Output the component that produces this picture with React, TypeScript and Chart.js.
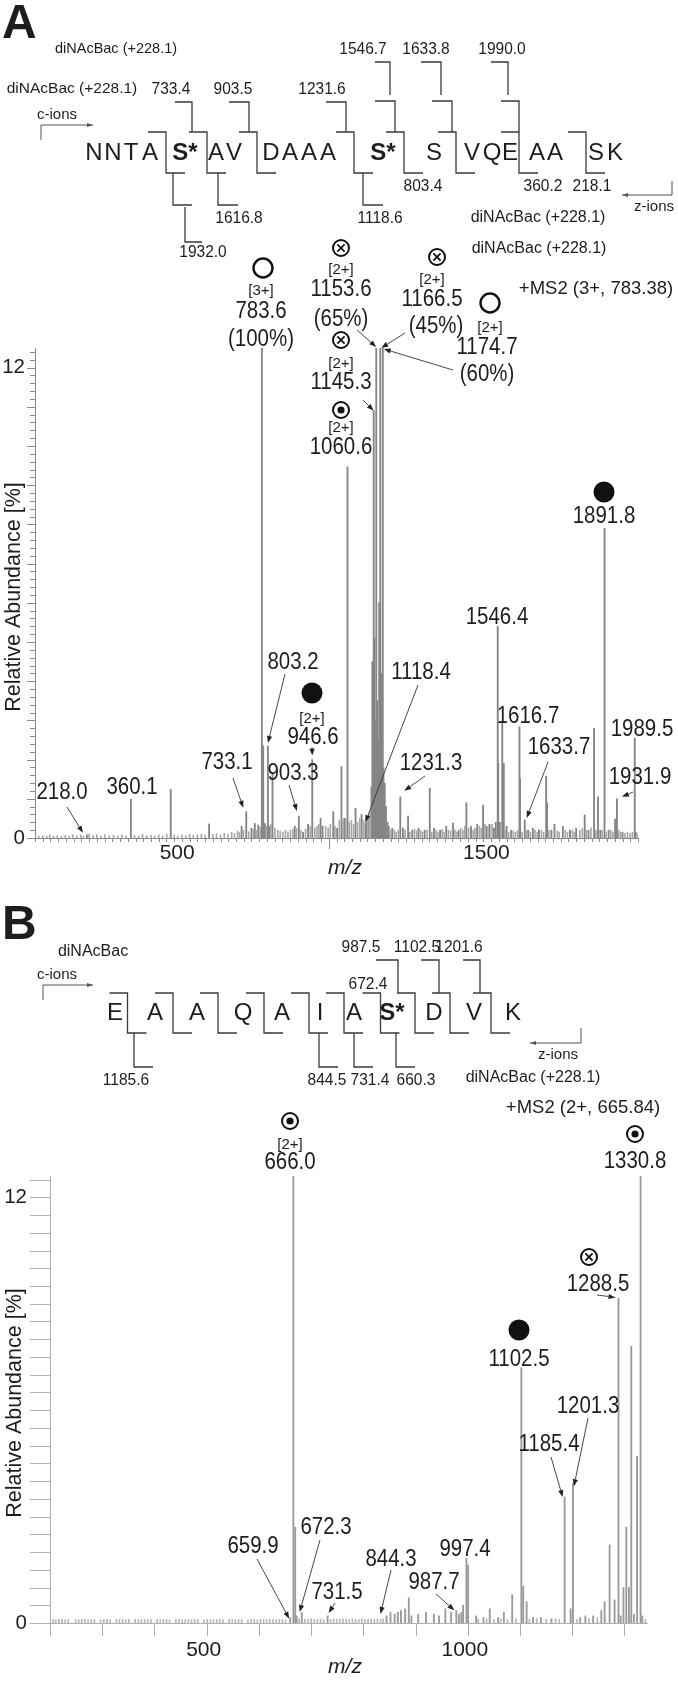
import React, { useEffect, useRef } from 'react';
import { Chart, registerables } from 'chart.js';

Chart.register(...registerables);

const FONT = '"Liberation Sans", Arial, Helvetica, sans-serif';

// ---------------- DATA : panel A (m/z, relative abundance %) ----------------
const peaksA: [number, number][] = [
  [218.0, 0.08], [360.1, 0.99], [489.0, 1.24], [613.0, 0.36], [718.0, 0.3], [733.1, 0.67],
  [750.0, 0.25], [761.0, 0.37], [772.0, 0.33], [783.6, 100], [788.0, 2.35], [793.5, 0.37],
  [803.2, 2.35], [808.0, 0.3], [818.0, 1.65], [890.0, 0.3], [903.3, 0.56], [917.0, 0.15],
  [933.0, 0.35], [946.6, 2.0], [973.6, 0.5], [980.0, 0.3], [1014.6, 0.67], [1027.0, 0.25],
  [1041.0, 1.82], [1050.0, 0.5], [1060.6, 9.47], [1086.5, 0.76], [1106.0, 0.6], [1118.4, 0.38],
  [1122.0, 0.5], [1130.0, 0.6], [1138.0, 1.3], [1141.0, 4.5], [1145.3, 10.9], [1147.5, 5.1],
  [1150.0, 3.0], [1153.6, 65], [1157.0, 3.5], [1160.0, 2.5], [1163.0, 6.0], [1166.5, 45],
  [1170.0, 4.2], [1174.7, 60], [1177.0, 1.8], [1181.0, 1.4], [1185.0, 0.8], [1190.0, 0.4],
  [1194.0, 0.3], [1205.0, 0.25], [1231.3, 1.05], [1240.0, 0.25], [1256.5, 0.56], [1270.0, 0.2],
  [1290.0, 0.25], [1310.0, 0.2], [1326.6, 1.27], [1340.0, 0.25], [1360.0, 0.2], [1380.0, 0.3],
  [1402.0, 0.38], [1420.0, 0.2], [1445.0, 0.9], [1460.0, 0.3], [1480.0, 0.35], [1499.0, 0.84],
  [1510.0, 0.3], [1520.0, 0.35], [1534.0, 0.25], [1540.0, 0.4], [1546.4, 5.4], [1548.0, 1.9],
  [1553.0, 0.4], [1561.0, 2.97], [1566.0, 1.9], [1575.0, 0.3], [1590.0, 0.2], [1616.7, 2.84],
  [1618.5, 1.53], [1633.7, 0.46], [1645.0, 0.2], [1660.0, 0.25], [1680.0, 0.2], [1703.0, 1.58],
  [1706.0, 0.9], [1720.0, 0.2], [1730.0, 0.35], [1757.0, 0.3], [1780.0, 0.2], [1800.0, 0.25],
  [1827.6, 0.59], [1840.0, 0.2], [1858.0, 2.8], [1870.7, 1.05], [1878.0, 0.2], [1891.8, 7.9],
  [1905.0, 0.2], [1926.0, 0.48], [1931.9, 1.0], [1950.0, 0.15], [1989.5, 2.55], [1993.0, 0.15],
];

const noiseA: [number, number][] = [
  [62, 0.05], [75, 0.06], [88, 0.04], [98, 0.08], [110, 0.05], [122, 0.06], [135, 0.04], [148, 0.07],
  [160, 0.05], [172, 0.09], [185, 0.06], [198, 0.08], [207, 0.05], [225, 0.1], [238, 0.06], [250, 0.08],
  [263, 0.05], [276, 0.09], [290, 0.06], [304, 0.07], [318, 0.05], [331, 0.08], [345, 0.06], [372, 0.07],
  [385, 0.05], [398, 0.09], [411, 0.06], [425, 0.07], [437, 0.05], [450, 0.08], [463, 0.06], [476, 0.1],
  [500, 0.07], [512, 0.05], [525, 0.08], [538, 0.06], [550, 0.09], [562, 0.07], [575, 0.08], [588, 0.1],
  [600, 0.07], [625, 0.09], [637, 0.11], [650, 0.08], [662, 0.12], [674, 0.1], [686, 0.15], [695, 0.12],
  [705, 0.18], [711, 0.14], [724, 0.2], [741, 0.16], [756, 0.22], [766, 0.2], [778, 0.28], [798, 0.3],
  [813, 0.35], [826, 0.25], [835, 0.2], [843, 0.18], [852, 0.15], [860, 0.2], [868, 0.15], [876, 0.2],
  [884, 0.22], [896, 0.25], [909, 0.2], [925, 0.22], [940, 0.3], [955, 0.25], [962, 0.3], [968, 0.35],
  [990, 0.3], [998, 0.25], [1005, 0.35], [1020, 0.3], [1034, 0.45], [1046, 0.4], [1055, 0.5], [1066, 0.4],
  [1073, 0.45], [1080, 0.35], [1093, 0.4], [1100, 0.5], [1112, 0.45], [1126, 0.5], [1133, 0.7], [1198, 0.2],
  [1212, 0.2], [1218, 0.15], [1225, 0.2], [1247, 0.2], [1262, 0.15], [1277, 0.22], [1284, 0.18], [1297, 0.2],
  [1303, 0.15], [1318, 0.2], [1333, 0.15], [1347, 0.2], [1353, 0.15], [1367, 0.22], [1373, 0.15], [1387, 0.2],
  [1394, 0.18], [1408, 0.2], [1414, 0.15], [1427, 0.25], [1434, 0.2], [1440, 0.3], [1452, 0.25], [1467, 0.2],
  [1473, 0.25], [1487, 0.3], [1493, 0.25], [1505, 0.35], [1515, 0.3], [1528, 0.35], [1557, 0.3], [1570, 0.2],
  [1582, 0.15], [1597, 0.18], [1604, 0.15], [1611, 0.2], [1625, 0.15], [1639, 0.2], [1652, 0.15], [1667, 0.2],
  [1674, 0.15], [1688, 0.2], [1695, 0.15], [1712, 0.2], [1739, 0.18], [1745, 0.15], [1765, 0.2], [1772, 0.15],
  [1788, 0.2], [1794, 0.15], [1812, 0.2], [1820, 0.25], [1833, 0.2], [1848, 0.25], [1864, 0.2], [1884, 0.2],
  [1897, 0.15], [1912, 0.2], [1919, 0.15], [1938, 0.2], [1944, 0.15], [1958, 0.12], [1966, 0.15], [1974, 0.12],
  [1982, 0.15], [1997, 0.1],
];

// ---------------- DATA : panel B ----------------
const peaksB: [number, number][] = [
  [659.9, 0.15], [666.0, 100], [669.5, 2.7], [672.3, 0.2], [682.0, 0.3], [731.5, 0.2], [844.3, 0.2],
  [852.0, 0.3], [860.0, 0.25], [866.0, 0.3], [872.0, 0.35], [880.0, 0.4], [887.0, 0.71], [892.0, 0.2],
  [905.0, 0.25], [920.0, 0.3], [935.0, 0.25], [945.0, 0.2], [957.0, 0.4], [968.0, 0.3], [978.0, 0.35],
  [983.0, 0.25], [987.7, 0.3], [991.0, 0.5], [997.4, 1.83], [1000.5, 1.63], [1016.0, 0.2], [1030.0, 0.15],
  [1042.0, 0.4], [1058.0, 0.15], [1069.0, 0.3], [1085.0, 0.8], [1102.5, 7.2], [1106.0, 1.04], [1112.6, 0.6],
  [1125.0, 0.15], [1140.0, 0.15], [1160.0, 0.12], [1185.4, 3.55], [1197.0, 0.4], [1201.3, 3.94],
  [1215.0, 0.15], [1225.0, 0.2], [1240.0, 0.2], [1255.6, 0.35], [1262.0, 0.6], [1271.5, 2.2], [1281.0, 0.65],
  [1288.5, 9.15], [1292.6, 0.2], [1298.0, 1.0], [1303.5, 2.7], [1308.5, 1.0], [1313.0, 7.8], [1318.0, 0.25],
  [1324.0, 4.7], [1330.8, 60], [1334.0, 0.2],
];

const noiseB: [number, number][] = [
  [206, 0.1], [211, 0.09], [217, 0.1], [223, 0.1], [229, 0.09], [235, 0.1], [249, 0.1], [255, 0.09],
  [261, 0.1], [267, 0.1], [273, 0.09], [279, 0.1], [285, 0.1], [297, 0.09], [303, 0.1], [309, 0.1],
  [315, 0.09], [327, 0.1], [333, 0.1], [339, 0.1], [345, 0.09], [351, 0.1], [363, 0.1], [369, 0.09],
  [375, 0.1], [381, 0.1], [387, 0.09], [393, 0.1], [405, 0.1], [411, 0.09], [417, 0.1], [423, 0.1],
  [429, 0.09], [441, 0.1], [447, 0.1], [453, 0.09], [459, 0.1], [465, 0.1], [471, 0.09], [477, 0.1],
  [483, 0.1], [495, 0.09], [501, 0.1], [507, 0.1], [513, 0.09], [519, 0.1], [525, 0.1], [531, 0.09],
  [543, 0.1], [549, 0.1], [555, 0.09], [561, 0.1], [567, 0.1], [579, 0.09], [585, 0.1], [591, 0.1],
  [597, 0.09], [603, 0.1], [609, 0.1], [615, 0.09], [621, 0.1], [627, 0.1], [633, 0.09], [639, 0.1],
  [645, 0.1], [651, 0.09], [677, 0.12], [688, 0.1], [694, 0.1], [700, 0.12], [706, 0.1], [712, 0.1],
  [718, 0.12], [724, 0.1], [737, 0.1], [743, 0.12], [749, 0.1], [755, 0.1], [761, 0.12], [767, 0.1],
  [773, 0.1], [779, 0.12], [785, 0.1], [791, 0.1], [797, 0.12], [803, 0.1], [809, 0.1], [815, 0.12],
  [821, 0.1], [827, 0.12], [833, 0.1], [838, 0.12], [1020, 0.1], [1036, 0.12], [1050, 0.1], [1063, 0.12],
  [1076, 0.1], [1092, 0.12], [1118, 0.1], [1132, 0.12], [1150, 0.1], [1168, 0.12], [1175, 0.1], [1209, 0.1],
  [1232, 0.12], [1248, 0.15], [1340, 0.1],
];

// axis ranges and tick labels
const xRangeA = [50, 2000];
const yMaxA = 12.5;
const xRangeB = [200, 1345];
const yMaxB = 12.6;
const xTickLabelsA = [500, 1500];
const xTickLabelsB = [500, 1000];
const yTickLabels = [0, 12];

// peptide sequences
const seqA = ['N', 'N', 'T', 'A', 'S*', 'A', 'V', 'D', 'A', 'A', 'A', 'S*', 'S', 'V', 'Q', 'E', 'A', 'A', 'S', 'K'];
const seqB = ['E', 'A', 'A', 'Q', 'A', 'I', 'A', 'S*', 'D', 'V', 'K'];

// ---------------- LAYOUT (positions of diagram pieces) ----------------
const seqAX = [94, 113, 131, 150, 185, 216, 234, 271, 290, 309, 328, 383, 434, 472, 492, 510, 537, 555, 596, 615];
const cutsAX = [166, 207, 257, 354, 404, 456, 519, 586];
const seqBX = [115, 155, 197, 243, 282, 320, 354, 392, 434, 474, 513];
const cutsBX = [127.5, 173, 218, 264, 309, 344, 380.5, 415, 450, 491];

type Sym = { k: string; x: number; y: number };
type Txt = { t: string; x: number; y: number; s?: number; a?: CanvasTextAlign; st?: string; cx?: number };
type Arr = { fx: number; fy: number; mz: number; dx: number; dy: number };
type Br = [number, number, number, number, number]; // hx1,hx2,yh,vx,yv

const symbolsA: Sym[] = [
  { k: 'open', x: 263, y: 268 }, { k: 'cross', x: 341, y: 248 }, { k: 'cross', x: 341, y: 340 },
  { k: 'dot', x: 341, y: 410 }, { k: 'cross', x: 437, y: 257 }, { k: 'open', x: 490, y: 303 },
  { k: 'filled', x: 604, y: 492 }, { k: 'filled', x: 312, y: 693 },
];
const textsA: Txt[] = [
  { t: '[3+]', x: 261, y: 291, s: 15 }, { t: '783.6', x: 261, y: 312 }, { t: '(100%)', x: 261, y: 340 },
  { t: '[2+]', x: 341, y: 270, s: 15 }, { t: '1153.6', x: 341, y: 290 }, { t: '(65%)', x: 341, y: 320 },
  { t: '[2+]', x: 341, y: 364, s: 15 }, { t: '1145.3', x: 341, y: 383 },
  { t: '[2+]', x: 341, y: 428, s: 15 }, { t: '1060.6', x: 341, y: 448 },
  { t: '[2+]', x: 432, y: 280, s: 15 }, { t: '1166.5', x: 432, y: 300 }, { t: '(45%)', x: 436, y: 327 },
  { t: '[2+]', x: 490, y: 328, s: 15 }, { t: '1174.7', x: 487, y: 348 }, { t: '(60%)', x: 487, y: 375 },
  { t: '+MS2 (3+, 783.38)', x: 596, y: 289, s: 18.5 },
  { t: '1891.8', x: 604, y: 517 }, { t: '1546.4', x: 497, y: 618 }, { t: '1616.7', x: 528, y: 717 },
  { t: '1633.7', x: 559, y: 748 }, { t: '1989.5', x: 642, y: 730 }, { t: '1931.9', x: 640, y: 778 },
  { t: '1231.3', x: 431, y: 764 }, { t: '1118.4', x: 421, y: 673 },
  { t: '218.0', x: 62, y: 793 }, { t: '360.1', x: 132, y: 788 }, { t: '733.1', x: 227, y: 763 },
  { t: '803.2', x: 293, y: 663 }, { t: '[2+]', x: 312, y: 719, s: 15 }, { t: '946.6', x: 313, y: 738 },
  { t: '903.3', x: 293, y: 774 },
];
const arrowsA: Arr[] = [
  { fx: 357, fy: 330, mz: 1153.6, dx: 0, dy: -1 }, { fx: 405, fy: 333, mz: 1166.5, dx: 1, dy: 0 },
  { fx: 453, fy: 370, mz: 1174.7, dx: 1, dy: 1 }, { fx: 363, fy: 400, mz: 1145.3, dx: 0, dy: 0 },
  { fx: 285, fy: 674, mz: 803.2, dx: 0, dy: -3 }, { fx: 312, fy: 747, mz: 946.6, dx: 0, dy: -4 },
  { fx: 233, fy: 778, mz: 733.1, dx: -3, dy: -4 }, { fx: 289, fy: 785, mz: 903.3, dx: -2, dy: -5 },
  { fx: 67, fy: 807, mz: 218.0, dx: -4, dy: -2 }, { fx: 418, fy: 685, mz: 1118.4, dx: 0, dy: -1 },
  { fx: 425, fy: 776, mz: 1231.3, dx: 4, dy: -6 }, { fx: 548, fy: 762, mz: 1633.7, dx: 2, dy: -2 },
  { fx: 633, fy: 792, mz: 1931.9, dx: 5, dy: -2 },
];
const diagTextsA: Txt[] = [
  { t: 'diNAcBac (+228.1)', x: 116, y: 49, s: 14.5 }, { t: '1546.7', x: 363, y: 49, s: 16.5 },
  { t: '1633.8', x: 426, y: 49, s: 16.5 }, { t: '1990.0', x: 502, y: 49, s: 16.5 },
  { t: 'diNAcBac (+228.1)', x: 72, y: 89, s: 15.5 }, { t: '733.4', x: 171, y: 89, s: 16.5 },
  { t: '903.5', x: 233, y: 89, s: 16.5 }, { t: '1231.6', x: 322, y: 89, s: 16.5 },
  { t: '803.4', x: 423, y: 186, s: 16.5 }, { t: '360.2', x: 543, y: 186, s: 16.5 }, { t: '218.1', x: 592, y: 186, s: 16.5 },
  { t: '1616.8', x: 239, y: 218, s: 16.5 }, { t: '1118.6', x: 380, y: 218, s: 16.5 }, { t: '1932.0', x: 203, y: 252, s: 16.5 },
  { t: 'diNAcBac (+228.1)', x: 538, y: 218, s: 16 }, { t: 'diNAcBac (+228.1)', x: 539, y: 249, s: 16 },
  { t: 'c-ions', x: 37, y: 115, s: 15, a: 'left' }, { t: 'z-ions', x: 654, y: 207, s: 15 },
];
const bracketsA: Br[] = [
  [175, 192, 102, 192, 132], [229, 249, 102, 249, 132], [326, 346, 102, 346, 132],
  [375, 395, 101, 395, 132], [432, 452, 101, 452, 132], [501, 519, 101, 519, 132],
  [375, 390, 62, 390, 95], [421, 441, 62, 441, 95], [491, 508, 62, 508, 95],
  [173, 192, 205, 173, 173], [185, 202, 242, 185, 207], [218, 238, 205, 218, 173], [363, 383, 205, 363, 173],
];

const symbolsB: Sym[] = [
  { k: 'dot', x: 290, y: 1121 }, { k: 'dot', x: 635, y: 1134 }, { k: 'cross', x: 589, y: 1257 },
  { k: 'filled', x: 519, y: 1330 },
];
const textsB: Txt[] = [
  { t: '[2+]', x: 290, y: 1145, s: 15 }, { t: '666.0', x: 290, y: 1163 }, { t: '1330.8', x: 635, y: 1162 },
  { t: '+MS2 (2+, 665.84)', x: 583, y: 1108, s: 18.5 }, { t: '1288.5', x: 598, y: 1285 },
  { t: '1102.5', x: 519, y: 1360 }, { t: '1201.3', x: 588, y: 1407 }, { t: '1185.4', x: 549, y: 1445 },
  { t: '997.4', x: 465, y: 1550 }, { t: '987.7', x: 434, y: 1583 }, { t: '844.3', x: 391, y: 1560 },
  { t: '731.5', x: 337, y: 1593 }, { t: '672.3', x: 326, y: 1528 }, { t: '659.9', x: 253, y: 1547 },
];
const arrowsB: Arr[] = [
  { fx: 597, fy: 1295, mz: 1288.5, dx: -3, dy: -1 }, { fx: 588, fy: 1418, mz: 1201.3, dx: 1, dy: 3 },
  { fx: 551, fy: 1457, mz: 1185.4, dx: -2, dy: 0 }, { fx: 436, fy: 1594, mz: 987.7, dx: -7, dy: -2 },
  { fx: 391, fy: 1570, mz: 844.3, dx: -6, dy: -2 }, { fx: 335, fy: 1603, mz: 731.5, dx: 1, dy: -3 },
  { fx: 320, fy: 1540, mz: 672.3, dx: 3, dy: -4 }, { fx: 257, fy: 1559, mz: 659.9, dx: -1, dy: 1 },
];
const diagTextsB: Txt[] = [
  { t: 'diNAcBac', x: 93, y: 952, s: 16 }, { t: 'c-ions', x: 37, y: 975, s: 15, a: 'left' },
  { t: '987.5', x: 361, y: 947, s: 16.5 }, { t: '1102.5', x: 417, y: 947, s: 16.5 }, { t: '1201.6', x: 459, y: 947, s: 16.5 },
  { t: '672.4', x: 368, y: 984, s: 16.5 },
  { t: '1185.6', x: 126, y: 1080, s: 16.5 }, { t: '844.5', x: 327, y: 1080, s: 16.5 }, { t: '731.4', x: 370, y: 1080, s: 16.5 },
  { t: '660.3', x: 416, y: 1080, s: 16.5 }, { t: 'diNAcBac (+228.1)', x: 533, y: 1078, s: 16 },
  { t: 'z-ions', x: 558, y: 1055, s: 15 },
];
const bracketsB: Br[] = [
  [376, 398, 960, 398, 993], [421, 439, 960, 439, 993], [463, 480, 960, 480, 993],
  [134, 153, 1067, 134, 1033], [319, 338, 1067, 319, 1033], [354, 373, 1067, 354, 1033], [396, 415, 1067, 396, 1033],
];

const TXT_COL = '#1d1d1d';
const LINE_COL = '#3a3a3a';

// peak labels: 23px, horizontally condensed; numbers in diagrams slightly condensed
function text(ctx: CanvasRenderingContext2D, t: Txt) {
  const s = t.s ?? 23;
  let cx = t.cx ?? (t.s === undefined ? 0.89 : 1);
  if (t.cx === undefined && t.s !== undefined && /^[\d.]+$/.test(t.t) && t.s < 18) cx = 0.94;
  ctx.font = `${t.st ? t.st + ' ' : ''}${s}px ${FONT}`;
  ctx.textAlign = t.a ?? 'center';
  ctx.textBaseline = 'middle';
  ctx.fillStyle = TXT_COL;
  ctx.save();
  ctx.translate(t.x, t.y);
  ctx.scale(cx, 1);
  ctx.fillText(t.t, 0, 0);
  ctx.restore();
}

function line(ctx: CanvasRenderingContext2D, pts: number[][]) {
  ctx.beginPath();
  ctx.moveTo(pts[0][0], pts[0][1]);
  for (let i = 1; i < pts.length; i++) ctx.lineTo(pts[i][0], pts[i][1]);
  ctx.stroke();
}

function arrow(ctx: CanvasRenderingContext2D, x1: number, y1: number, x2: number, y2: number) {
  const ang = Math.atan2(y2 - y1, x2 - x1);
  const len = 7, half = 2.6;
  ctx.strokeStyle = '#333';
  ctx.lineWidth = 0.9;
  const bx = x2 - Math.cos(ang) * len, by = y2 - Math.sin(ang) * len;
  line(ctx, [[x1, y1], [bx, by]]);
  ctx.fillStyle = '#222';
  ctx.beginPath();
  ctx.moveTo(x2, y2);
  ctx.lineTo(bx + Math.sin(ang) * half, by - Math.cos(ang) * half);
  ctx.lineTo(bx - Math.sin(ang) * half, by + Math.cos(ang) * half);
  ctx.closePath();
  ctx.fill();
}

function symbol(ctx: CanvasRenderingContext2D, s: Sym) {
  ctx.strokeStyle = '#111';
  ctx.fillStyle = '#111';
  if (s.k === 'filled') {
    ctx.beginPath(); ctx.arc(s.x, s.y, 10.5, 0, Math.PI * 2); ctx.fill();
    return;
  }
  const r = s.k === 'open' ? 9.5 : 8;
  ctx.lineWidth = s.k === 'open' ? 2.4 : 2;
  ctx.beginPath(); ctx.arc(s.x, s.y, r, 0, Math.PI * 2); ctx.stroke();
  if (s.k === 'dot') {
    ctx.beginPath(); ctx.arc(s.x, s.y, 3.6, 0, Math.PI * 2); ctx.fill();
  } else if (s.k === 'cross') {
    const d = 3.6;
    ctx.lineWidth = 1.8;
    line(ctx, [[s.x - d, s.y - d], [s.x + d, s.y + d]]);
    line(ctx, [[s.x - d, s.y + d], [s.x + d, s.y - d]]);
  }
}

function drawSequence(ctx: CanvasRenderingContext2D, seq: string[], xs: number[], cy: number, cuts: number[],
  topY: number, botY: number, brackets: Br[]) {
  seq.forEach((r, i) => {
    const bold = r === 'S*';
    text(ctx, { t: r, x: xs[i], y: cy, s: 24, st: bold ? 'bold' : '', cx: 1 });
  });
  ctx.strokeStyle = LINE_COL;
  ctx.lineWidth = 1.3;
  cuts.forEach((x) => {
    line(ctx, [[x - 18, topY], [x, topY], [x, botY], [x + 19, botY]]);
  });
  brackets.forEach(([hx1, hx2, yh, vx, yv]) => {
    if (vx === hx2) line(ctx, [[hx1, yh], [hx2, yh], [vx, yv]]);
    else line(ctx, [[vx, yv], [vx, yh], [hx2, yh]]);
  });
}

function ionArrow(ctx: CanvasRenderingContext2D, pts: number[][]) {
  ctx.strokeStyle = '#555';
  ctx.lineWidth = 1;
  line(ctx, pts);
  const [x1, y1] = pts[pts.length - 2];
  const [x2, y2] = pts[pts.length - 1];
  const ang = Math.atan2(y2 - y1, x2 - x1);
  ctx.fillStyle = '#555';
  ctx.beginPath();
  ctx.moveTo(x2, y2);
  ctx.lineTo(x2 - Math.cos(ang) * 6 + Math.sin(ang) * 2, y2 - Math.sin(ang) * 6 - Math.cos(ang) * 2);
  ctx.lineTo(x2 - Math.cos(ang) * 6 - Math.sin(ang) * 2, y2 - Math.sin(ang) * 6 + Math.cos(ang) * 2);
  ctx.closePath();
  ctx.fill();
}

function peakTip(chart: any, peaks: [number, number][], mz: number, yMax: number) {
  const p = peaks.find((q) => q[0] === mz);
  const v = p ? Math.min(p[1], yMax) : 0;
  return [chart.scales.x.getPixelForValue(mz), chart.scales.y.getPixelForValue(v)];
}

function yTitle(ctx: CanvasRenderingContext2D, x: number, y: number) {
  ctx.save();
  ctx.translate(x, y);
  ctx.rotate(-Math.PI / 2);
  text(ctx, { t: 'Relative Abundance [%]', x: 0, y: 0, s: 21.5 });
  ctx.restore();
}

const overlayA = {
  id: 'overlayA',
  afterDraw(chart: any) {
    const ctx: CanvasRenderingContext2D = chart.ctx;
    const a = chart.chartArea;
    const xs = chart.scales.x, ys = chart.scales.y;
    ctx.save();
    ctx.strokeStyle = '#8a8a8a';
    ctx.lineWidth = 1;
    line(ctx, [[a.left + 0.5, a.top], [a.left + 0.5, a.bottom + 0.5], [a.right, a.bottom + 0.5]]);
    for (let i = 0; i <= 62; i++) {
      const y = Math.round(ys.getPixelForValue(i * 0.2)) + 0.5;
      const len = i % 5 === 0 ? 8 : 5;
      line(ctx, [[a.left - len, y], [a.left, y]]);
    }
    for (let m = xRangeA[0]; m <= xRangeA[1]; m += 25) {
      const x = Math.round(xs.getPixelForValue(m)) + 0.5;
      const len = m === 1000 ? 11 : 4;
      line(ctx, [[x, a.bottom], [x, a.bottom + len]]);
    }
    xTickLabelsA.forEach((m) => text(ctx, { t: String(m), x: xs.getPixelForValue(m) + 3, y: 853, s: 21 }));
    yTickLabels.forEach((v) => text(ctx, { t: String(v), x: 25, y: ys.getPixelForValue(v), a: 'right', s: 20.5 }));
    text(ctx, { t: 'm/z', x: 345, y: 868, st: 'italic', s: 21 });
    yTitle(ctx, 14, 597);
    symbolsA.forEach((s) => symbol(ctx, s));
    textsA.forEach((t) => text(ctx, t));
    arrowsA.forEach((r) => {
      const [tx, ty] = peakTip(chart, peaksA, r.mz, yMaxA);
      arrow(ctx, r.fx, r.fy, tx + r.dx, ty + r.dy);
    });
    text(ctx, { t: 'A', x: 2, y: 25, s: 48, st: 'bold', a: 'left' });
    drawSequence(ctx, seqA, seqAX, 153, cutsAX, 132, 173, bracketsA);
    diagTextsA.forEach((t) => text(ctx, t));
    ionArrow(ctx, [[41, 140], [41, 125], [93, 125]]);
    ionArrow(ctx, [[672, 181], [672, 195], [622, 195]]);
    ctx.restore();
  },
};

const OFFB = 880;
const overlayB = {
  id: 'overlayB',
  afterDraw(chart: any) {
    const ctx: CanvasRenderingContext2D = chart.ctx;
    const a = chart.chartArea;
    const xs = chart.scales.x, ys = chart.scales.y;
    ctx.save();
    ctx.strokeStyle = '#b0b0b0';
    ctx.lineWidth = 1;
    line(ctx, [[a.left + 0.5, a.top], [a.left + 0.5, a.bottom + 0.5], [a.right, a.bottom + 0.5]]);
    for (let i = 0; i <= 25; i++) {
      const y = Math.round(ys.getPixelForValue(i * 0.5)) + 0.5;
      line(ctx, [[a.left - 20, y], [a.left, y]]);
    }
    for (let m = 200; m <= 1300; m += 100) {
      const x = Math.round(xs.getPixelForValue(m)) + 0.5;
      line(ctx, [[x, a.bottom], [x, a.bottom + 13]]);
    }
    xTickLabelsB.forEach((m) => text(ctx, { t: String(m), x: xs.getPixelForValue(m) - 3, y: 1650 - OFFB, s: 21 }));
    yTickLabels.forEach((v) => text(ctx, { t: String(v), x: 27, y: ys.getPixelForValue(v), a: 'right', s: 20.5 }));
    ctx.translate(0, -OFFB);
    text(ctx, { t: 'm/z', x: 345, y: 1667, st: 'italic', s: 21 });
    yTitle(ctx, 15, 1403);
    symbolsB.forEach((s) => symbol(ctx, s));
    textsB.forEach((t) => text(ctx, t));
    arrowsB.forEach((r) => {
      const [tx, ty] = peakTip(chart, peaksB, r.mz, yMaxB);
      arrow(ctx, r.fx, r.fy, tx + r.dx, ty + OFFB + r.dy);
    });
    text(ctx, { t: 'B', x: 2, y: 926, s: 48, st: 'bold', a: 'left' });
    drawSequence(ctx, seqB, seqBX, 1013, cutsBX, 993, 1033, bracketsB);
    diagTextsB.forEach((t) => text(ctx, t));
    ionArrow(ctx, [[43, 1000], [43, 985], [93, 985]]);
    ionArrow(ctx, [[581, 1028], [581, 1043], [530, 1043]]);
    ctx.restore();
  },
};

function makeConfig(peaks: [number, number][], noise: [number, number][], xr: number[], yMax: number,
  pad: any, plugin: any, col: string, noiseCol: string) {
  return {
    type: 'bar' as const,
    data: {
      datasets: [
        { data: noise.map(([x, y]) => ({ x, y })), backgroundColor: noiseCol, borderWidth: 0, barThickness: 1, grouped: false },
        { data: peaks.map(([x, y]) => ({ x, y })), backgroundColor: col, borderWidth: 0, barThickness: 1.2, grouped: false },
      ],
    },
    options: {
      animation: false as const,
      responsive: false,
      maintainAspectRatio: false,
      devicePixelRatio: 1,
      layout: { padding: pad },
      scales: {
        x: { type: 'linear' as const, min: xr[0], max: xr[1], offset: false, display: false },
        y: { min: 0, max: yMax, display: false },
      },
      plugins: { legend: { display: false }, tooltip: { enabled: false } },
    },
    plugins: [plugin],
  };
}

export default function App() {
  const refA = useRef<HTMLCanvasElement>(null);
  const refB = useRef<HTMLCanvasElement>(null);
  useEffect(() => {
    document.body.style.margin = '0';
    document.body.style.background = '#fff';
    const ca = new Chart(refA.current as HTMLCanvasElement,
      makeConfig(peaksA, noiseA, xRangeA, yMaxA, { left: 35, right: 40, top: 348, bottom: 42 }, overlayA, '#858585', '#a8a8a8') as any);
    const cb = new Chart(refB.current as HTMLCanvasElement,
      makeConfig(peaksB, noiseB, xRangeB, yMaxB, { left: 50, right: 30, top: 296, bottom: 58 }, overlayB, '#9a9a9a', '#b5b5b5') as any);
    return () => { ca.destroy(); cb.destroy(); };
  }, []);
  return (
    <div style={{ width: 678, background: '#fff' }}>
      <canvas ref={refA} width={678} height={880} style={{ display: 'block', width: 678, height: 880 }} />
      <canvas ref={refB} width={678} height={801} style={{ display: 'block', width: 678, height: 801 }} />
    </div>
  );
}
